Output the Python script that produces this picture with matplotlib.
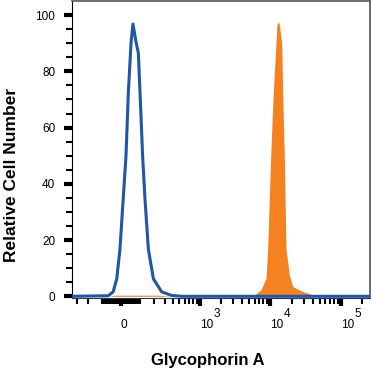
"""Glycophorin A flow cytometry histogram (logicle-like x axis)."""

import matplotlib

matplotlib.use("Agg")
import matplotlib.pyplot as plt
import numpy as np

plt.rcParams["font.family"] = ["Liberation Sans", "DejaVu Sans"]

# isotype control (blue outline)
control_x = [-361, -65, -39, -21, -5, 11, 25, 37, 51, 61, 78, 91, 101, 117, 132, 155, 193, 267, 384, 550, 260000]
control_y = [0, 0.2, 1.6, 6.2, 16.8, 34.5, 49.7, 72.4, 90.1, 96.8, 90.4, 86.5, 72.4, 49.7, 34.5, 16.8, 6.2, 1.6, 0.3, 0, 0]

# stained sample (orange fill)
stain_x = [-361, -60, -30, 250, 380, 5620, 7370, 8690, 9180, 10120, 11020, 12040, 12430, 13270,
           14520, 14990, 15810, 16690, 18590, 20780, 28800, 39980, 49550, 260000]
stain_y = [0, 0, 0.4, 0.4, 0, 0, 2.3, 6.4, 17.1, 49.7, 72.4, 90.1, 96.8, 97.5,
           90.1, 72.4, 49.7, 17.1, 7.6, 3.5, 1.7, 0.5, 0, 0]

x_major = [0, 1e3, 1e4, 1e5]
x_major_labels = ["0", "10", "10", "10"]
x_exponents = ["", "3", "4", "5"]
y_major = [0, 20, 40, 60, 80, 100]

A = 152.0


def fwd(x):
    return np.arcsinh(np.asarray(x) / A)


def inv(y):
    return A * np.sinh(np.asarray(y))


fig = plt.figure(figsize=(3.72, 3.73), dpi=100)
ax = fig.add_axes([72 / 372, 75 / 373, 298 / 372, 297 / 373])
ax.set_xscale("function", functions=(fwd, inv))

ax.fill_between(stain_x, stain_y, color="#f58220", linewidth=0, zorder=2)
ax.plot(control_x, control_y, color="#1f56a5", linewidth=2.2, zorder=3)

ax.set_xlim(-361, 260000)
ax.set_ylim(-0.6, 105)

ax.set_xticks(x_major, x_major_labels)
for lab in ax.get_xticklabels():
    lab.set_horizontalalignment("left")
for xv, ex in zip(x_major, x_exponents):
    if ex:
        ax.annotate(ex, xy=(xv, 0), xycoords=("data", "axes fraction"),
                    xytext=(9.8, -11.5), textcoords="offset points",
                    ha="left", va="center", fontsize=8.5)

minor = [v for v in range(-90, 100, 10) if v != 0]
minor += [-300, -200, -100] + list(range(100, 1000, 100))
minor += list(range(2000, 10000, 1000)) + list(range(20000, 100000, 10000)) + [200000]
ax.set_xticks(minor, minor=True)
ax.set_yticks(y_major)
ax.set_yticks(np.arange(0, 105, 5), minor=True)

ax.tick_params(axis="both", which="major", length=6, width=3, color="black", labelsize=8.5)
ax.tick_params(axis="both", which="minor", length=4, width=1.5, color="black")
ax.tick_params(axis="x", which="major", pad=9)
ax.tick_params(axis="y", which="major", pad=6)

for side in ["top", "right"]:
    ax.spines[side].set_color("#555555")
    ax.spines[side].set_linewidth(1.2)
ax.spines["left"].set_color("black")
ax.spines["bottom"].set_color("#1f3a6a")

fig.text(208 / 372, 1 - 360 / 373, "Glycophorin A", ha="center", va="center",
         fontsize=12, fontweight="bold")
fig.text(12 / 372, 1 - 175 / 373, "Relative Cell Number", ha="center", va="center",
         rotation=90, fontsize=12.5, fontweight="bold")

fig.savefig("out.png", dpi=100)
